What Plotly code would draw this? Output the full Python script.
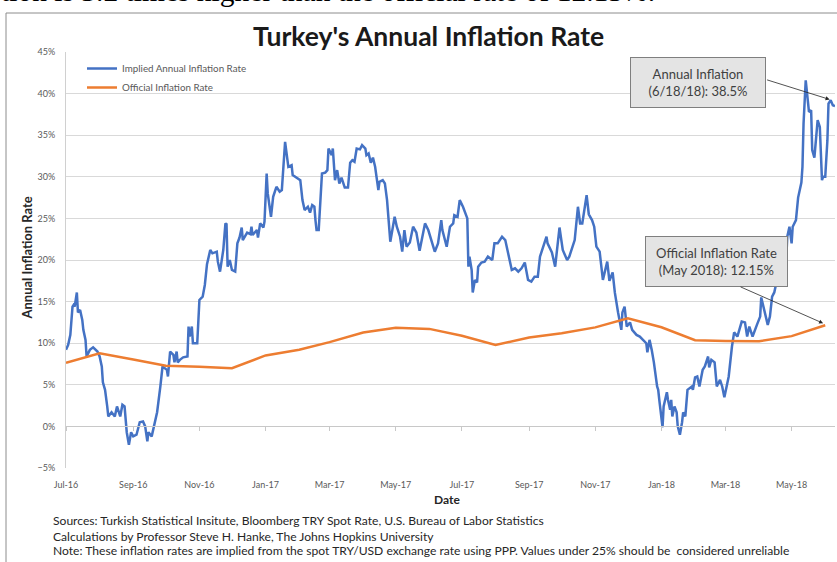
import pandas as pd
import plotly.graph_objects as go

# ---------------- data ----------------
start_date = "2016-07-09"
# (days after start_date, implied annual inflation rate %)
implied_series = [
    (0, 9.2), (2, 9.8), (4, 11.0), (6, 14.4), (7, 14.6), (8, 14.4), (10, 16.1), (11, 13.7), (13, 14.0), (15, 12.8),
    (16, 11.6), (18, 10.4), (19, 8.4), (22, 9.2), (25, 9.5), (29, 9.0), (31, 8.4), (33, 7.2), (34, 5.3), (36, 4.4),
    (38, 2.4), (39, 1.2), (42, 1.7), (45, 1.2), (47, 2.4), (50, 1.2), (52, 2.6), (54, 2.4), (56, -0.7), (58, -2.2),
    (60, -0.7), (62, -1.2), (65, -1.0), (68, 0.5), (71, 0.6), (73, 0.0), (75, -1.8), (76, -0.7), (79, -1.2), (82, 0.5),
    (84, 1.7), (87, 4.8), (88, 6.0), (89, 7.2), (93, 6.8), (94, 6.0), (96, 9.0), (99, 8.6), (100, 7.7), (102, 9.0),
    (103, 7.7), (105, 8.0), (108, 8.3), (112, 8.4), (113, 12.0), (114, 10.8), (116, 12.0), (117, 10.0), (121, 10.0), (122, 13.2),
    (123, 15.2), (126, 15.6), (128, 17.0), (130, 19.5), (131, 20.0), (133, 21.2), (135, 20.8), (139, 21.0), (140, 19.8), (142, 18.6),
    (145, 21.2), (147, 24.4), (148, 24.3), (149, 19.2), (151, 20.0), (153, 18.8), (156, 18.6), (158, 22.0), (160, 22.7), (162, 23.9),
    (163, 22.4), (167, 23.3), (170, 23.1), (171, 24.0), (172, 23.0), (176, 23.6), (177, 22.7), (179, 24.4), (182, 23.9), (183, 24.6),
    (185, 30.4), (186, 28.0), (189, 25.2), (191, 27.6), (194, 28.8), (197, 28.2), (199, 28.4), (200, 30.8), (202, 34.2), (205, 31.2),
    (208, 31.4), (209, 30.2), (213, 29.9), (216, 29.6), (218, 27.2), (220, 26.0), (223, 26.4), (225, 25.7), (227, 26.6), (229, 26.4),
    (230, 24.8), (231, 23.6), (233, 23.6), (236, 30.4), (239, 30.5), (241, 30.8), (242, 33.4), (245, 32.6), (246, 33.4), (248, 29.6),
    (250, 30.8), (252, 29.2), (254, 29.9), (257, 28.7), (260, 28.7), (262, 31.7), (264, 32.0), (266, 31.8), (268, 33.4), (271, 33.3),
    (273, 33.8), (276, 33.4), (277, 32.6), (279, 32.8), (281, 31.7), (283, 32.3), (285, 31.2), (288, 28.4), (289, 29.4), (292, 29.6),
    (294, 29.2), (296, 27.2), (299, 22.2), (301, 23.6), (303, 25.2), (305, 24.0), (308, 22.8), (310, 21.0), (312, 23.6), (314, 21.6),
    (317, 22.1), (320, 24.0), (323, 23.3), (326, 21.1), (331, 24.4), (334, 23.6), (337, 22.4), (340, 21.0), (343, 22.0), (346, 24.8),
    (347, 23.6), (351, 21.6), (354, 24.0), (357, 24.4), (358, 25.4), (361, 25.2), (363, 27.2), (366, 26.4), (370, 25.0), (371, 19.2),
    (372, 20.4), (374, 18.8), (375, 16.1), (377, 17.6), (379, 17.3), (380, 19.2), (383, 19.7), (386, 19.8), (389, 20.4), (393, 20.0),
    (395, 22.0), (398, 22.0), (402, 22.8), (405, 22.4), (407, 21.2), (411, 18.8), (414, 19.0), (417, 18.6), (420, 19.0), (423, 19.7),
    (426, 17.6), (429, 17.4), (432, 18.0), (435, 18.0), (437, 20.4), (440, 21.5), (443, 22.8), (444, 22.0), (448, 20.9), (451, 19.2),
    (452, 20.4), (455, 23.9), (458, 21.2), (462, 20.0), (464, 20.4), (467, 21.6), (469, 22.4), (472, 26.4), (474, 24.4), (476, 24.4),
    (480, 27.8), (482, 25.5), (485, 24.8), (487, 24.0), (489, 21.6), (492, 21.0), (495, 17.6), (499, 19.8), (501, 17.5), (504, 18.5),
    (506, 16.1), (509, 13.7), (512, 11.6), (513, 13.7), (515, 14.4), (517, 12.0), (520, 12.5), (522, 11.6), (526, 11.0), (529, 10.8),
    (532, 10.4), (535, 10.0), (536, 8.9), (538, 10.4), (540, 9.2), (542, 7.7), (545, 4.8), (546, 4.4), (547, 3.2), (550, -0.1),
    (551, 2.4), (554, 4.1), (555, 3.2), (557, 2.0), (558, 3.2), (559, 1.2), (561, 2.4), (563, 1.7), (564, 0.0), (566, -1.0),
    (568, 0.5), (569, 1.7), (571, 1.2), (573, 4.4), (577, 4.8), (578, 4.4), (580, 5.9), (582, 6.0), (584, 4.8), (587, 6.8),
    (589, 7.2), (592, 8.4), (593, 7.1), (595, 8.0), (598, 7.7), (600, 4.8), (603, 5.6), (605, 4.8), (607, 3.5), (609, 4.8),
    (611, 6.0), (614, 9.6), (616, 11.3), (619, 10.8), (623, 12.6), (626, 12.5), (628, 10.8), (630, 12.0), (633, 10.8), (637, 12.2),
    (640, 13.2), (641, 15.5), (643, 14.4), (645, 13.2), (647, 12.2), (649, 13.2), (651, 15.6), (653, 16.1), (655, 17.3), (658, 17.0),
    (661, 18.2), (664, 20.0), (665, 22.8), (667, 24.0), (669, 22.0), (670, 24.0), (673, 24.8), (675, 27.5), (676, 28.2), (678, 29.3),
    (679, 31.2), (680, 36.4), (682, 41.6), (684, 38.4), (685, 37.8), (687, 38.0), (688, 33.2), (690, 32.3), (692, 36.0), (693, 36.8),
    (695, 36.0), (697, 29.6), (698, 30.0), (700, 30.0), (702, 34.4), (703, 38.8), (705, 39.2), (707, 38.6), (709, 38.5),
]
implied_day = [p[0] for p in implied_series]
implied_rate = [p[1] for p in implied_series]

official_dates = [
    "2016-07-09", "2016-08-09", "2016-09-09", "2016-10-09", "2016-11-09", "2016-12-09",
    "2017-01-09", "2017-02-09", "2017-03-09", "2017-04-09", "2017-05-09", "2017-06-09",
    "2017-07-09", "2017-08-09", "2017-09-09", "2017-10-09", "2017-11-09", "2017-12-09",
    "2018-01-09", "2018-02-09", "2018-03-09", "2018-04-09", "2018-05-09", "2018-06-09",
]
official_rate = [7.64, 8.79, 8.05, 7.28, 7.16, 7.00, 8.53, 9.22, 10.13, 11.29, 11.87, 11.72,
                 10.90, 9.79, 10.68, 11.20, 11.90, 12.98, 11.92, 10.35, 10.26, 10.23, 10.85, 12.15]

implied_dates = pd.Timestamp(start_date) + pd.to_timedelta(implied_day, unit="D")

# ---------------- figure ----------------
FONT = "Lato, 'Open Sans', sans-serif"
W, H = 837, 562
L, R, T, B = 66, 2, 52, 94
PW, PH = W - L - R, H - T - B


def px(x):
    return (x - L) / PW


def py(y):
    return (H - B - y) / PH


fig = go.Figure()
fig.add_trace(go.Scatter(
    x=implied_dates, y=implied_rate, mode="lines", name="Implied Annual Inflation Rate",
    line=dict(color="#4472C4", width=2.5)))
fig.add_trace(go.Scatter(
    x=official_dates, y=official_rate, mode="lines", name="Official Inflation Rate",
    line=dict(color="#ED7D31", width=2.5)))

x_range = [start_date, "2018-06-18"]

fig.update_layout(
    width=W, height=H,
    margin=dict(l=L, r=R, t=T, b=B),
    paper_bgcolor="white", plot_bgcolor="white",
    font=dict(family=FONT, color="#595959"),
    showlegend=True,
    legend=dict(x=px(82), y=py(54), xanchor="left", yanchor="top",
                font=dict(size=9.8, color="#595959"), bgcolor="rgba(0,0,0,0)",
                tracegroupgap=0, itemwidth=30),
    xaxis=dict(type="date", range=x_range, tick0=start_date, dtick="M2", tickformat="%b-%y",
               showgrid=False, zeroline=False, showline=False,
               ticks="outside", ticklen=8, tickcolor="rgba(0,0,0,0)",
               tickfont=dict(size=9, color="#595959")),
    xaxis2=dict(type="date", range=x_range, tick0=start_date, dtick="M2",
                overlaying="x", anchor="free", position=0.1,
                side="bottom", showgrid=False, zeroline=False, showline=True,
                linecolor="#c8c8c8", linewidth=1, ticks="outside", ticklen=4,
                tickcolor="#c8c8c8", showticklabels=False),
    yaxis=dict(range=[-5, 45], dtick=5, ticksuffix="%", showgrid=True, gridcolor="#d9d9d9",
               zeroline=False, showline=True, linecolor="#d0d0d0", linewidth=1,
               ticks="outside", ticklen=8, tickcolor="rgba(0,0,0,0)",
               tickfont=dict(size=9, color="#595959")),
)

# invisible trace so the secondary (0%) axis is drawn
fig.add_trace(go.Scatter(x=official_dates, y=official_rate, xaxis="x2", mode="lines",
                         line=dict(width=0, color="rgba(0,0,0,0)"), showlegend=False,
                         hoverinfo="skip"))

C = dict(xref="paper", yref="paper", xanchor="center", yanchor="middle", showarrow=False)
ann = []
# top cut-off document text
ann.append(dict(C, text="tion is 3.2 times higher than the official rate of 12.15%.",
                x=px(-1), y=py(-9), xanchor="left",
                font=dict(family="'Liberation Serif', 'Times New Roman', serif", size=29.5, color="black")))
# title
ann.append(dict(C, text="<b>Turkey's Annual Inflation Rate</b>", x=px(428.5), y=py(35.5),
                font=dict(family=FONT, size=26.5, color="#1a1a1a")))
# axis titles
ann.append(dict(C, text="<b>Annual Inflation Rate</b>", x=px(26.5), y=py(258), textangle=-90,
                font=dict(family=FONT, size=13, color="#262626")))
ann.append(dict(C, text="<b>Date</b>", x=px(447), y=py(499),
                font=dict(family=FONT, size=12, color="#262626")))
# sources
notes = [
    "Sources: Turkish Statistical Insitute, Bloomberg TRY Spot Rate, U.S. Bureau of Labor Statistics",
    "Calculations by Professor Steve H. Hanke, The Johns Hopkins University",
    "Note: These inflation rates are implied from the spot TRY/USD exchange rate using PPP. Values under 25% should be  considered unreliable",
]
for txt, yy in zip(notes, [520, 536, 550]):
    ann.append(dict(C, text=txt, x=px(51), y=py(yy), xanchor="left",
                    font=dict(family=FONT, size=12.1, color="#262626")))
# callout boxes
ann.append(dict(C, text="Annual Inflation<br>(6/18/18): 38.5%", x=px(698), y=py(82.5),
                width=130, height=45,
                bgcolor="#e4e4e4", bordercolor="#7f7f7f", borderwidth=1, borderpad=2,
                font=dict(family=FONT, size=13, color="#404040")))
ann.append(dict(C, text="Official Inflation Rate<br>(May 2018): 12.15%", x=px(716.5), y=py(261.5),
                width=137, height=45,
                bgcolor="#e4e4e4", bordercolor="#7f7f7f", borderwidth=1, borderpad=2,
                font=dict(family=FONT, size=13, color="#404040")))
# arrows
ann.append(dict(text="", x="2018-06-13", y=39.3, xref="x", yref="y", ax=-64, ay=-20,
                showarrow=True, arrowhead=2, arrowsize=1, arrowwidth=0.8, arrowcolor="#262626"))
ann.append(dict(text="", x="2018-06-07", y=12.4, xref="x", yref="y", ax=-84, ay=-37,
                showarrow=True, arrowhead=2, arrowsize=1, arrowwidth=0.8, arrowcolor="#262626"))
fig.update_layout(annotations=ann)

# outer frame of the embedded chart
fig.add_shape(type="rect", xref="paper", yref="paper", x0=px(6), x1=px(W + 20), y0=py(H + 20), y1=py(13),
              line=dict(color="#8c8c8c", width=1), fillcolor="rgba(0,0,0,0)", layer="below")

fig.write_html("out.html", config={"displayModeBar": False},
               post_script="document.body.style.margin='0';")
